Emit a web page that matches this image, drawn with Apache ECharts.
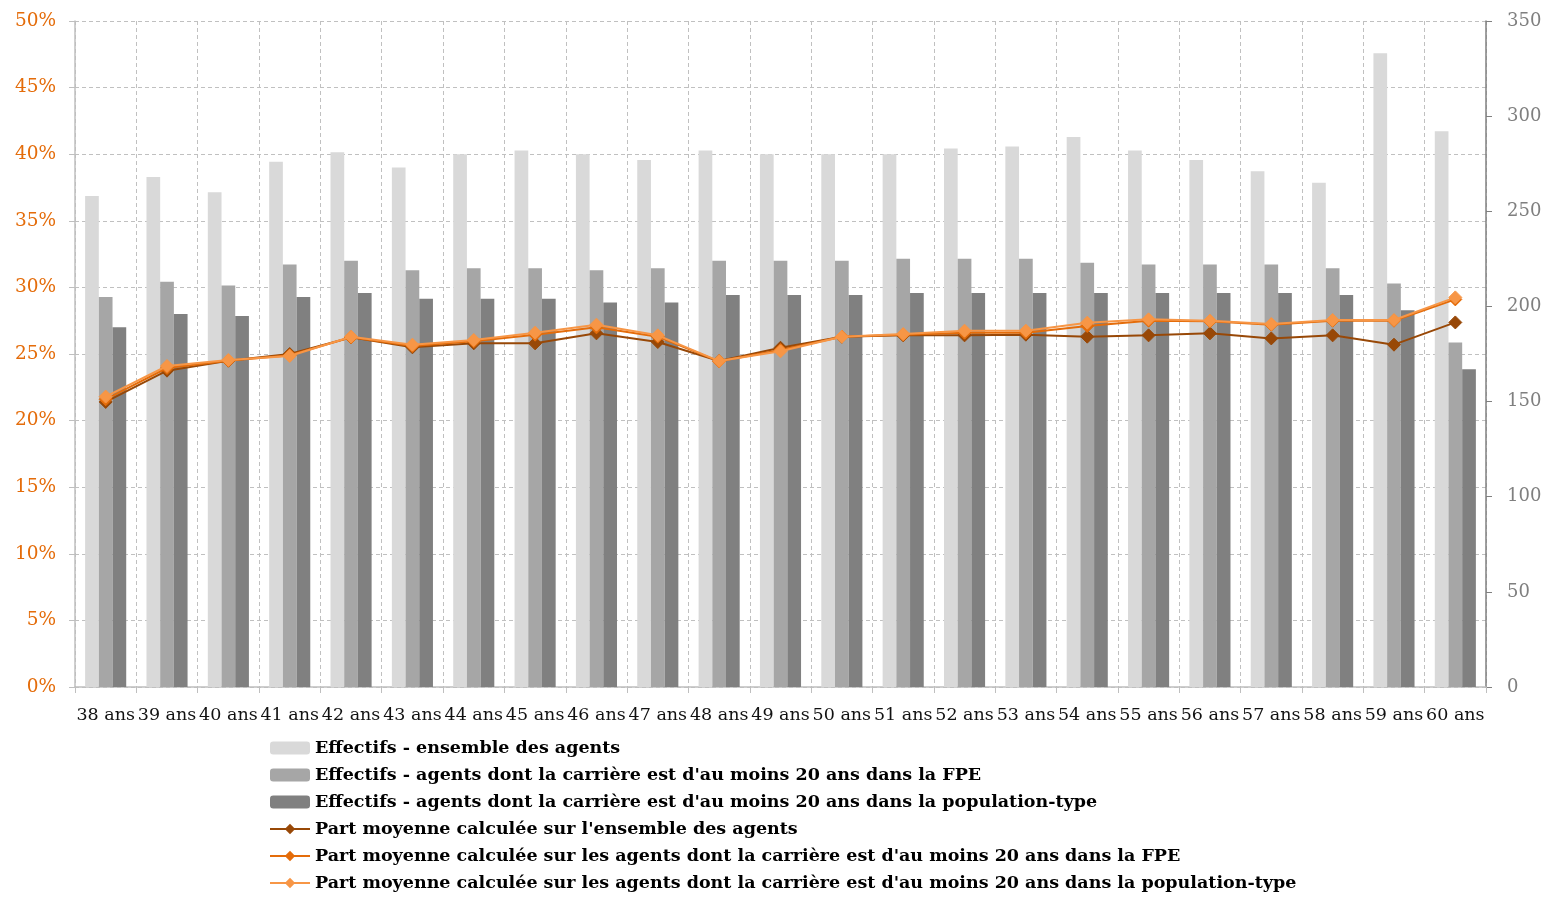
<!DOCTYPE html>
<html><head><meta charset="utf-8">
<script src="https://cdn.jsdelivr.net/npm/echarts@6/dist/echarts.min.js"></script>
<style>html,body{margin:0;padding:0;background:#fff}#c{width:1549px;height:897px}</style>
</head><body><div id="c"></div>
<script>
var categories = ['38 ans','39 ans','40 ans','41 ans','42 ans','43 ans','44 ans','45 ans','46 ans','47 ans','48 ans','49 ans','50 ans','51 ans','52 ans','53 ans','54 ans','55 ans','56 ans','57 ans','58 ans','59 ans','60 ans'];
var effEnsemble = [258,268,260,276,281,273,280,282,280,277,282,280,280,280,283,284,289,282,277,271,265,333,292];
var effFPE = [205,213,211,222,224,219,220,220,219,220,224,224,224,225,225,225,223,222,222,222,220,212,181];
var effPop = [189,196,195,205,207,204,204,204,202,202,206,206,206,207,207,207,207,207,207,207,206,198,167];
var partEnsemble = [0.214,0.2375,0.245,0.250,0.2625,0.255,0.258,0.258,0.2655,0.259,0.2447,0.2547,0.263,0.264,0.264,0.2645,0.263,0.264,0.2655,0.2617,0.264,0.257,0.2737];
var partFPE = [0.216,0.2395,0.245,0.249,0.2625,0.256,0.2595,0.2645,0.270,0.263,0.2445,0.253,0.263,0.2645,0.266,0.266,0.271,0.275,0.2745,0.272,0.275,0.275,0.291];
var partPop = [0.218,0.241,0.2455,0.2485,0.263,0.257,0.2605,0.266,0.272,0.264,0.2447,0.252,0.263,0.265,0.2675,0.2675,0.2735,0.276,0.275,0.2725,0.2755,0.2755,0.2925];
var legendNames = ['Effectifs - ensemble des agents','Effectifs - agents dont la carrière est d\'au moins 20 ans dans la FPE','Effectifs - agents dont la carrière est d\'au moins 20 ans dans la population-type','Part moyenne calculée sur l\'ensemble des agents','Part moyenne calculée sur les agents dont la carrière est d\'au moins 20 ans dans la FPE','Part moyenne calculée sur les agents dont la carrière est d\'au moins 20 ans dans la population-type'];

var chart = echarts.init(document.getElementById('c'));
var serif = '"DejaVu Serif", serif';
function lineSeries(name, data, color, z){
  return {name:name, type:'line', yAxisIndex:0, data:data, symbol:'diamond', symbolSize:13,
    z:z, lineStyle:{color:color,width:2}, itemStyle:{color:color, borderColor:color}};
}
chart.setOption({
  animation:false,
  grid:{left:75,right:63,top:21,bottom:210},
  legend:{orient:'vertical',left:264,top:734,height:300,itemGap:9,itemWidth:40,itemHeight:13,
    textStyle:{fontFamily:serif,fontWeight:'bold',fontSize:17.5,color:'#000'},
    data:legendNames},
  xAxis:{type:'category',data:categories,boundaryGap:true,
    axisLine:{lineStyle:{color:'#bfbfbf',width:1.5}},
    axisTick:{show:true,length:6,lineStyle:{color:'#bfbfbf'}},
    axisLabel:{interval:0,fontFamily:serif,fontSize:17.5,color:'#111',margin:19},
    splitLine:{show:true,lineStyle:{color:'#c0c0c0',type:[4,3],width:1}}},
  yAxis:[
    {type:'value',min:0,max:0.5,interval:0.05,position:'left',
     axisLine:{show:true,lineStyle:{color:'#bfbfbf',width:1.5}},
     axisTick:{show:true,length:6,lineStyle:{color:'#bfbfbf'}},
     axisLabel:{fontFamily:serif,fontSize:18.5,color:'#e46c0a',margin:19,
       formatter:function(v){return Math.round(v*100)+'%';}},
     splitLine:{show:true,lineStyle:{color:'#c0c0c0',type:[4,3],width:1}}},
    {type:'value',min:0,max:350,interval:50,position:'right',
     axisLine:{show:true,lineStyle:{color:'#808080',width:1.5}},
     axisTick:{show:true,length:6,lineStyle:{color:'#808080'}},
     axisLabel:{fontFamily:serif,fontSize:18,color:'#7f7f7f',margin:21},
     splitLine:{show:false}}
  ],
  series:[
    {name:legendNames[0],type:'bar',yAxisIndex:1,data:effEnsemble,barGap:'0%',barCategoryGap:'33%',itemStyle:{color:'#d9d9d9'}},
    {name:legendNames[1],type:'bar',yAxisIndex:1,data:effFPE,barGap:'0%',barCategoryGap:'33%',itemStyle:{color:'#a6a6a6'}},
    {name:legendNames[2],type:'bar',yAxisIndex:1,data:effPop,barGap:'0%',barCategoryGap:'33%',itemStyle:{color:'#808080'}},
    lineSeries(legendNames[3], partEnsemble, '#984807', 3),
    lineSeries(legendNames[4], partFPE, '#e46c0a', 4),
    lineSeries(legendNames[5], partPop, '#f79646', 5)
  ]
});
</script></body></html>
